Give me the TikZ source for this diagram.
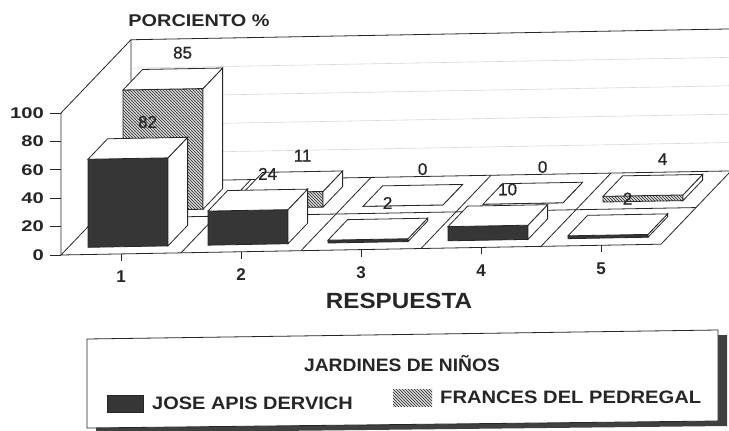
\documentclass[tikz,border=0pt]{standalone}
\usepackage{fontspec}
\setmainfont{Liberation Sans}
\usepackage{graphicx}
\usetikzlibrary{patterns}
\definecolor{barc}{HTML}{363636}
\definecolor{shadowc}{HTML}{404040}
\definecolor{inkc}{HTML}{262626}
\pgfdeclarepatternformonly{myhatch}{\pgfqpoint{-1pt}{-1pt}}{\pgfqpoint{4pt}{4pt}}{\pgfqpoint{3pt}{3pt}}{%
  \pgfsetlinewidth{0.75pt}%
  \pgfpathmoveto{\pgfqpoint{0pt}{3pt}}%
  \pgfpathlineto{\pgfqpoint{3.1pt}{-0.1pt}}%
  \pgfusepath{stroke}}
\newcommand{\xs}[2]{\scalebox{#1}[1]{#2}}
\newcommand{\chartbar}[5]{%
  \path[#5] (#1,0,#2) -- (#1+80,0,#2) -- (#1+80,#4,#2) -- (#1,#4,#2) -- cycle;
  \path[whiteface] (#1+80,0,#2) -- (#1+80,0,#3) -- (#1+80,#4,#3) -- (#1+80,#4,#2) -- cycle;
  \path[whiteface] (#1,#4,#2) -- (#1+80,#4,#2) -- (#1+80,#4,#3) -- (#1,#4,#3) -- cycle;
}
\tikzset{
  lnstyle/.style={draw=inkc, line width=0.8pt, line join=miter},
  whiteface/.style={lnstyle, fill=white},
  darkface/.style={lnstyle, fill=barc},
  hatchface/.style={lnstyle, preaction={fill=white}, pattern=myhatch, pattern color=black!75},
  gridline/.style={draw=black!15, line width=0.6pt},
  vlab/.style={font=\fontsize{17}{17}\selectfont\mdseries\addfontfeature{FakeBold=0.8}, inner sep=0pt, text=inkc},
  ylab/.style={font=\fontsize{15.5}{16}\selectfont\bfseries, inner sep=0pt, anchor=east, text=inkc},
  clab/.style={font=\fontsize{17}{17}\selectfont\bfseries, inner sep=0pt, text=inkc},
  titlelab/.style={font=\fontsize{17}{17}\selectfont\bfseries, inner sep=0pt, text=inkc},
  leglab/.style={font=\fontsize{18}{18}\selectfont\bfseries, inner sep=0pt, text=inkc},
}
\begin{document}
\begin{tikzpicture}[x=1pt,y=1pt]
\useasboundingbox (0,0) rectangle (729,-431);
\fill[white] (0,0) rectangle (729,-431);

\node[titlelab] (title) at (199,-21) {\xs{1.17}{PORCIENTO \%}};

\begin{scope}[shift={(61,-255)}, x={(1pt,0.018pt)}, y={(0pt,1.42pt)}, z={(70pt,73.26pt)}]
  % floor
  \path[whiteface] (0,0,0) -- (600,0,0) -- (600,0,1) -- (0,0,1) -- cycle;
  \foreach \k in {1,...,4} {\draw[lnstyle] (120*\k,0,0) -- (120*\k,0,1);}
  \draw[lnstyle] (0,0,0.5) -- (600,0,0.5);
  % walls
  \foreach \h in {20,40,60,80} {\draw[gridline] (0,\h,1) -- (600,\h,1);}
  \draw[lnstyle] (0,0,1) -- (0,100,1) -- (600,100,1);
  \draw[lnstyle] (0,0,0) -- (0,100,0) -- (0,100,1);
  % y axis ticks and labels
  \foreach \h in {0,20,...,100} {
    \draw[lnstyle] (0,\h,0) -- ++(-11pt,0pt);
    \path (0,\h,0) ++(-17pt,0pt) node[ylab] {\xs{1.3}{\h}};
  }
  % category ticks and labels
  \foreach \k in {1,...,5} {
    \draw[lnstyle] (120*\k-60,0,0) -- ++(0pt,-7pt);
    \path (120*\k-60,0,0) ++(0pt,-23pt) node[clab] {\k};
  }
  % back row bars
  \foreach \k/\h in {0/85,1/11,2/0,3/0,4/4} {
    \chartbar{20+120*\k}{0.6}{0.88}{\h}{hatchface}
  }
  % front row bars
  \foreach \k/\h in {0/62,1/24,2/2,3/10,4/2} {
    \chartbar{20+120*\k}{0.1}{0.38}{\h}{darkface}
  }
  % value labels
  \foreach \k/\h/\lab in {0/85/85,1/11/11,2/0/0,3/0/0,4/4/4} {
    \path (60+120*\k,\h,0.88) node[vlab, yshift=16pt] {\lab};
  }
  \foreach \k/\h/\lab in {0/62/82,1/24/24,2/2/2,3/10/10,4/2/2} {
    \path (60+120*\k,\h,0.38) node[vlab, yshift=16pt] {\lab};
  }
\end{scope}

\node[titlelab, font=\fontsize{22}{22}\selectfont\bfseries] (xtitle) at (399,-301) {\xs{1.1}{RESPUESTA}};

% legend
\fill[shadowc] (96,-344) -- (727,-335) -- (727,-426) -- (96,-433) -- cycle;
\path[whiteface] (87,-339) -- (718,-330) -- (718,-421) -- (87,-428) -- cycle;
\node[leglab] (legtitle) at (402,-364) {\xs{1.07}{JARDINES DE NIÑOS}};
\path[darkface] (107,-395) rectangle (143,-412);
\node[leglab, anchor=west] (leg1) at (152,-403.5) {\xs{1.11}{JOSE APIS DERVICH}};
\path[pattern=myhatch, pattern color=black!75] (393,-389) rectangle (432,-406);
\node[leglab, anchor=west] (leg2) at (440,-397) {\xs{1.12}{FRANCES DEL PEDREGAL}};
\end{tikzpicture}
\end{document}
